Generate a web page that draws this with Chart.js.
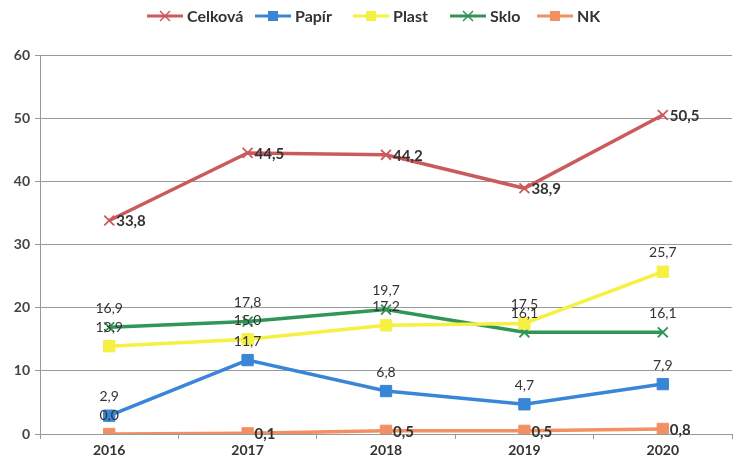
<!DOCTYPE html>
<html>
<head>
<meta charset="utf-8">
<script src="https://cdn.jsdelivr.net/npm/chart.js@4/dist/chart.umd.min.js"></script>
<style>
html,body{margin:0;padding:0;background:#fff;}
#wrap{width:741px;height:461px;}
</style>
</head>
<body>
<div id="wrap"><canvas id="c" width="741" height="461"></canvas></div>
<script>
const categories = ['2016','2017','2018','2019','2020'];
const celkova = [33.8, 44.5, 44.2, 38.9, 50.5];
const papir   = [2.9, 11.7, 6.8, 4.7, 7.9];
const plast   = [13.9, 15.0, 17.2, 17.5, 25.7];
const sklo    = [16.9, 17.8, 19.7, 16.1, 16.1];
const nk      = [0.0, 0.1, 0.5, 0.5, 0.8];
const seriesNames = ['Celková','Papír','Plast','Sklo','NK'];
const yTicks = [0,10,20,30,40,50,60];

const FONT = "Lato, 'Open Sans', 'DejaVu Sans', sans-serif";
const colors = ['#CB5A5C','#3A86D6','#F6F043','#2F9655','#F39063'];
const markers = ['crossRot','rect','rect','crossRot','rect'];
// label placement per dataset: 'right' (bold) or 'top'
const labelPos = [
  ['right','right','right','right','right'],
  ['top','top','top','top','top'],
  ['top','top','top','top','top'],
  ['top','top','top','top','top'],
  ['top','right','right','right','right']
];
const legendX = [147, 255, 353, 450, 537];

const fmt = v => v.toFixed(1).replace('.', ',');

const dataLabels = {
  id: 'dataLabels',
  afterDatasetsDraw(chart) {
    const ctx = chart.ctx;
    ctx.save();
    chart.data.datasets.forEach((ds, di) => {
      const meta = chart.getDatasetMeta(di);
      meta.data.forEach((pt, i) => {
        const pos = labelPos[di][i];
        const txt = fmt(ds.data[i]);
        ctx.fillStyle = '#333';
        if (pos === 'right') {
          ctx.font = 'bold 15px ' + FONT;
          ctx.textAlign = 'left';
          ctx.textBaseline = 'middle';
          ctx.fillText(txt, pt.x + 7, pt.y + 1);
        } else {
          ctx.font = '14px ' + FONT;
          ctx.textAlign = 'center';
          ctx.textBaseline = 'middle';
          ctx.fillText(txt, pt.x, pt.y - 19);
        }
      });
    });
    ctx.restore();
  }
};

const customLegend = {
  id: 'customLegend',
  afterDraw(chart) {
    const ctx = chart.ctx;
    ctx.save();
    ctx.font = 'bold 16px ' + FONT;
    const lineLen = 36, gap = 4;
    const y = 16;
    seriesNames.forEach((n, i) => {
      const x = legendX[i];
      ctx.strokeStyle = colors[i];
      ctx.lineWidth = 3;
      ctx.beginPath();
      ctx.moveTo(x, y); ctx.lineTo(x + lineLen, y);
      ctx.stroke();
      const cx = x + lineLen/2;
      if (markers[i] === 'rect') {
        ctx.fillStyle = colors[i];
        ctx.fillRect(cx-5, y-5, 10, 10);
      } else {
        ctx.lineWidth = 1.5;
        ctx.beginPath();
        ctx.moveTo(cx-5,y-5); ctx.lineTo(cx+5,y+5);
        ctx.moveTo(cx+5,y-5); ctx.lineTo(cx-5,y+5);
        ctx.stroke();
      }
      ctx.fillStyle = '#333';
      ctx.textAlign = 'left';
      ctx.textBaseline = 'middle';
      ctx.fillText(n, x + lineLen + gap, y + 1);
    });
    ctx.restore();
  }
};

const allSeries = [celkova, papir, plast, sklo, nk];
const datasets = allSeries.map((d, i) => ({
  label: seriesNames[i],
  data: d,
  borderColor: colors[i],
  backgroundColor: colors[i],
  borderWidth: 3.5,
  pointStyle: markers[i],
  pointRadius: markers[i] === 'rect' ? 8 : 7,
  pointBorderWidth: markers[i] === 'rect' ? 1 : 1.8,
  pointBorderColor: colors[i],
  pointBackgroundColor: colors[i],
  tension: 0,
  order: i
}));

new Chart(document.getElementById('c'), {
  type: 'line',
  data: { labels: categories, datasets },
  options: {
    responsive: false,
    animation: false,
    layout: { padding: { top: 55, right: 0, left: 0, bottom: 0 } },
    plugins: { legend: { display: false }, tooltip: { enabled: false } },
    scales: {
      x: {
        offset: true,
        grid: { offset: true, drawOnChartArea: false, drawTicks: true, tickLength: 5, color: '#999' },
        border: { display: true, color: '#999' },
        ticks: { font: { family: FONT, size: 14, weight: 'bold' }, color: '#333', padding: 3 },
        afterFit(s) { s.height = 27; }
      },
      y: {
        min: 0, max: 60,
        afterBuildTicks(s) { s.ticks = yTicks.map(v => ({ value: v })); },
        grid: { color: '#999', lineWidth: 1, drawTicks: true, tickLength: 5 },
        border: { display: true, color: '#999' },
        ticks: { font: { family: FONT, size: 14, weight: 'bold' }, color: '#444', padding: 5 },
        afterFit(s) { s.width = 40; }
      }
    }
  },
  plugins: [dataLabels, customLegend]
});
</script>
</body>
</html>
